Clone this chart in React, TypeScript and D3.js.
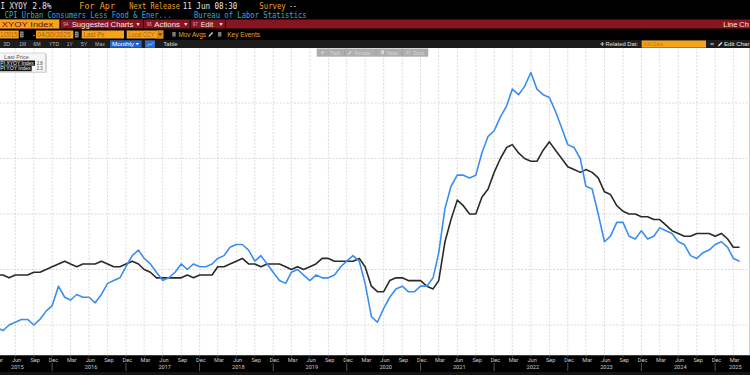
import React from "react";
import * as d3 from "d3";

// ---------- data ----------
const seriesStart = [2015, 0]; // Jan 2015, monthly observations
const seriesEnd = [2025, 3]; // Apr 2025

// CPI YOY Index (headline CPI, % y/y)
const cpiYoY = [
  -0.1, 0.0, -0.1, -0.2, 0.0, 0.1, 0.2, 0.2, 0.0, 0.2, 0.5, 0.7,
  1.4, 1.0, 0.9, 1.1, 1.0, 1.0, 0.8, 1.1, 1.5, 1.6, 1.7, 2.1,
  2.5, 2.7, 2.4, 2.2, 1.9, 1.6, 1.7, 1.9, 2.2, 2.0, 2.2, 2.1,
  2.1, 2.2, 2.4, 2.5, 2.8, 2.9, 2.9, 2.7, 2.3, 2.5, 2.2, 1.9,
  1.6, 1.5, 1.9, 2.0, 1.8, 1.6, 1.8, 1.7, 1.7, 1.8, 2.1, 2.3,
  2.5, 2.3, 1.5, 0.3, 0.1, 0.6, 1.0, 1.3, 1.4, 1.2, 1.2, 1.4,
  1.4, 1.7, 2.6, 4.2, 5.0, 5.4, 5.4, 5.3, 5.4, 6.2, 6.8, 7.0,
  7.5, 7.9, 8.5, 8.3, 8.6, 9.1, 8.5, 8.3, 8.2, 7.7, 7.1, 6.5,
  6.4, 6.0, 5.0, 4.9, 4.0, 3.0, 3.2, 3.7, 3.7, 3.2, 3.1, 3.4,
  3.1, 3.2, 3.5, 3.4, 3.3, 3.0, 2.9, 2.5, 2.4, 2.6, 2.7, 2.9,
  3.0, 2.8, 2.4, 2.3,
];

// CPI XYOY Index (core CPI less food & energy, % y/y)
const coreYoY = [
  1.6, 1.7, 1.8, 1.8, 1.7, 1.8, 1.8, 1.8, 1.9, 1.9, 2.0, 2.1,
  2.2, 2.3, 2.2, 2.1, 2.2, 2.2, 2.2, 2.3, 2.2, 2.1, 2.1, 2.2,
  2.3, 2.2, 2.0, 1.9, 1.7, 1.7, 1.7, 1.7, 1.7, 1.8, 1.7, 1.8,
  1.8, 1.8, 2.1, 2.1, 2.2, 2.3, 2.4, 2.2, 2.2, 2.1, 2.2, 2.2,
  2.2, 2.1, 2.0, 2.1, 2.0, 2.1, 2.2, 2.4, 2.4, 2.3, 2.3, 2.3,
  2.3, 2.4, 2.1, 1.4, 1.2, 1.2, 1.6, 1.7, 1.7, 1.6, 1.6, 1.6,
  1.4, 1.3, 1.6, 3.0, 3.8, 4.5, 4.3, 4.0, 4.0, 4.6, 4.9, 5.5,
  6.0, 6.4, 6.5, 6.2, 6.0, 5.9, 5.9, 6.3, 6.6, 6.3, 6.0, 5.7,
  5.6, 5.5, 5.6, 5.5, 5.3, 4.8, 4.7, 4.3, 4.1, 4.0, 4.0, 3.9,
  3.9, 3.8, 3.8, 3.6, 3.4, 3.3, 3.2, 3.2, 3.3, 3.3, 3.3, 3.2,
  3.3, 3.1, 2.8, 2.8,
];

const yGridValues = [0, 2, 4, 6, 8, 10];
const tickFirst = [2015, 2]; // Mar 2015
const tickLast = [2025, 2]; // Mar 2025
const yearLabels = [
  { year: "2015", month: [2015, 5] },
  { year: "2016", month: [2016, 5] },
  { year: "2017", month: [2017, 5] },
  { year: "2018", month: [2018, 5] },
  { year: "2019", month: [2019, 5] },
  { year: "2020", month: [2020, 5] },
  { year: "2021", month: [2021, 5] },
  { year: "2022", month: [2022, 5] },
  { year: "2023", month: [2023, 5] },
  { year: "2024", month: [2024, 5] },
  { year: "2025", month: [2025, 2] },
];
const legendNames = ["PI XYOY Index", "PI YOY Index"];
const rangeButtons = ["3D", "1M", "6M", "YTD", "1Y", "5Y", "Max"];

// ---------- styles ----------
const MONO = "'DejaVu Sans Mono', 'Liberation Mono', monospace";
const SANS = "'Liberation Sans', Arial, sans-serif";
const ORANGE_TXT = "#eba12e";
const ORANGE_BOX = "#f6a31c";
const CYAN = "#2db0d2";
const RED = "#861522";
const BLUE = "#3a8ef2";
const DARK = "#2a2a2a";

const utc = (a: number[]) => new Date(Date.UTC(a[0], a[1], 1));

function T(props: any) {
  const { x, y, w, size = 8, fill = "#fff", font = SANS, anchor = "start", weight = "normal", children } = props;
  const extra: any = {};
  if (w) {
    extra.textLength = w;
    extra.lengthAdjust = "spacingAndGlyphs";
  }
  return (
    <text x={x} y={y} fontSize={size} fill={fill} fontFamily={font} textAnchor={anchor} fontWeight={weight} {...extra}>
      {children}
    </text>
  );
}

export default function App() {
  const plotTop = 48;
  const plotBottom = 355.5;

  const x = d3.scaleUtc().domain([utc([2015, 5]), utc([2025, 2])]).range([15.3, 733.3]);
  const y = d3.scaleLinear().domain([0, 10]).range([325, 47.5]);

  const months = d3.utcMonth.range(utc(seriesStart), d3.utcMonth.offset(utc(seriesEnd), 1));
  const line = d3
    .line<number>()
    .x((_, i) => x(months[i]))
    .y((v) => y(v));

  const ticks = d3.utcMonth.range(utc(tickFirst), d3.utcMonth.offset(utc(tickLast), 1), 3);
  const fmtMonth = d3.utcFormat("%b");
  const fmt1 = d3.format(".1f");
  const lastCore = coreYoY[coreYoY.length - 1];
  const lastCpi = cpiYoY[cpiYoY.length - 1];

  return (
    <svg width={750} height={375} style={{ position: "absolute", left: 0, top: 0, display: "block", background: "#000" }}>
      <defs>
        <clipPath id="plotclip">
          <rect x={0} y={plotTop} width={750} height={plotBottom - plotTop} />
        </clipPath>
      </defs>

      {/* header rows */}
      <rect x={0} y={0} width={750} height={48} fill="#000" />
      <T x={0.5} y={8.6} w={26.8} font={MONO} fill="#e6e6e6">I XYOY</T>
      <T x={32.3} y={8.6} w={19.4} font={MONO} fill="#e6e6e6">{fmt1(lastCore)}%</T>
      <T x={79.3} y={8.6} w={35.7} font={MONO} fill={ORANGE_TXT}>For Apr</T>
      <T x={129.3} y={8.6} w={50.7} font={MONO} fill={ORANGE_TXT}>Next Release</T>
      <T x={182.7} y={8.6} w={54.6} font={MONO} fill="#e6e6e6">11 Jun 08:30</T>
      <T x={259.3} y={8.6} w={26.5} font={MONO} fill={ORANGE_TXT}>Survey</T>
      <T x={289.3} y={8.6} w={7.4} font={MONO} fill="#e6e6e6">--</T>

      <T x={4.7} y={18} w={167} font={MONO} fill={CYAN}>CPI Urban Consumers Less Food &amp; Ener...</T>
      <T x={194} y={18} w={112.7} font={MONO} fill={CYAN}>Bureau of Labor Statistics</T>

      {/* red action bar */}
      <rect x={0} y={19.5} width={750} height={9} fill={RED} />
      <rect x={0} y={19.5} width={59.3} height={9} fill={ORANGE_BOX} />
      <T x={1.7} y={26.6} w={51.6} size={8} fill="#5a1010">XYOY Index</T>
      {[60.3, 143.5, 190.3, 225.5].map((sx) => (
        <rect key={sx} x={sx - 0.6} y={19.5} width={1.2} height={9} fill="#2a0a0e" />
      ))}
      <T x={63.3} y={26.4} w={5} size={6} fill="#e2a7ad">94</T>
      <T x={71.7} y={26.6} w={61.6} size={8} fill="#f2e6e6">Suggested Charts</T>
      <T x={136.5} y={26.2} size={6} fill="#f2e6e6" font="'DejaVu Sans'">▾</T>
      <T x={146.7} y={26.4} w={5} size={6} fill="#e2a7ad">96</T>
      <T x={154.3} y={26.6} w={25.7} size={8} fill="#f2e6e6">Actions</T>
      <T x={184.3} y={26.2} size={6} fill="#f2e6e6" font="'DejaVu Sans'">▾</T>
      <T x={192.7} y={26.4} w={5} size={6} fill="#e2a7ad">97</T>
      <T x={200.7} y={26.6} w={12.6} size={8} fill="#f2e6e6">Edit</T>
      <T x={219.5} y={26.2} size={6} fill="#f2e6e6" font="'DejaVu Sans'">▾</T>
      <T x={723.3} y={26.6} w={25.5} size={8} fill="#f2e6e6">Line Ch</T>

      {/* date row */}
      <rect x={0} y={30.5} width={18.7} height={8} fill={ORANGE_BOX} />
      <T x={0.3} y={37.3} w={17} size={7.5} fill="#b35d00">1/2015</T>
      <rect x={20} y={31.5} width={3.6} height={6} fill="#8a8a8a" />
      <rect x={20.6} y={33.3} width={2.4} height={0.6} fill="#333" />
      <rect x={20.6} y={35} width={2.4} height={0.6} fill="#333" />
      <T x={32.7} y={37} size={7} fill="#ddd">-</T>
      <rect x={36} y={30.5} width={37.3} height={8} fill={ORANGE_BOX} />
      <T x={37.3} y={37.3} w={33.5} size={7.5} fill="#b35d00">04/30/2025</T>
      <rect x={75} y={31.5} width={3.6} height={6} fill="#8a8a8a" />
      <rect x={75.6} y={33.3} width={2.4} height={0.6} fill="#333" />
      <rect x={75.6} y={35} width={2.4} height={0.6} fill="#333" />
      <rect x={81.7} y={30.5} width={42.3} height={8} fill={ORANGE_BOX} />
      <T x={83.5} y={37.3} w={21} size={7.5} fill="#b35d00">Last Px</T>
      <rect x={126.7} y={30.5} width={36.6} height={8} fill={ORANGE_BOX} />
      <T x={128.5} y={37.3} w={26} size={7.5} fill="#b35d00">Local CCY</T>
      <rect x={157} y={30.5} width={6.3} height={8} fill="#d58a12" />
      <path d="M158.3,33.4 L162,33.4 L160.15,35.8 Z" fill="#5a2a00" />
      <rect x={172.3} y={32} width={3.4} height={4.6} fill="#7a7a7a" />
      <T x={178.5} y={37.3} w={27.5} size={7.5} fill={ORANGE_TXT}>Mov Avgs</T>
      <path d="M208.3,37 L209,35.3 L212.2,32.1 L213.2,33.1 L210,36.3 Z" fill="#cccccc" />
      <rect x={218} y={32} width={3.4} height={4.6} fill="#7a7a7a" />
      <T x={227.3} y={37.3} w={32.7} size={7.5} fill={ORANGE_TXT}>Key Events</T>

      {/* range row */}
      <rect x={0} y={40} width={750} height={8} fill="#1c1c1c" />
      {rangeButtons.map((b, i) => {
        const xs = [3.3, 19.3, 33.3, 49, 66.7, 80.7, 95];
        const ws = [6.7, 6.7, 7.4, 10, 6, 6.6, 10];
        return (
          <T key={b} x={xs[i]} y={46.3} w={ws[i]} size={6.2} fill="#b8b8b8">
            {b}
          </T>
        );
      })}
      <rect x={110} y={40.3} width={31.7} height={7.5} fill="#2660c6" />
      <T x={112} y={46.3} w={22} size={6.2} fill="#fff">Monthly</T>
      <path d="M135.6,42.9 L139.2,42.9 L137.4,45.3 Z" fill="#fff" />
      <rect x={145} y={40.3} width={10} height={7.5} fill="#2e6cd4" />
      <path d="M147.2,46.3 L149.3,43.8 L150.8,45 L153,42.5" stroke="#cfe0ff" strokeWidth={0.7} fill="none" />
      <T x={163.3} y={46.3} w={14.4} size={6.2} fill="#d8d8d8">Table</T>
      <path d="M600.3,44 L604.3,44 M602.3,42 L602.3,46" stroke="#e0e0e0" strokeWidth={0.8} />
      <T x={605.5} y={46.3} w={32.5} size={6.2} fill="#e0e0e0">Related Dat:</T>
      <rect x={641.7} y={40.5} width={64.3} height={7.2} fill={ORANGE_BOX} />
      <T x={643} y={46.3} w={20} size={6.2} fill="#c87a10">Add Data</T>
      <T x={709.5} y={46.3} w={5} size={6.2} fill="#ddd" font="'DejaVu Sans'">«</T>
      <path d="M717.8,46.4 L718.4,44.9 L721.4,41.9 L722.4,42.9 L719.4,45.9 Z" fill="#dddddd" />
      <T x={724} y={46.3} w={25.5} size={6.2} fill="#e6e6e6">Edit Char</T>

      {/* plot area */}
      <rect x={0} y={plotTop} width={750} height={plotBottom - plotTop} fill="#fff" />
      <g clipPath="url(#plotclip)">
        {ticks.map((t) => (
          <line
            key={+t}
            x1={x(t)}
            x2={x(t)}
            y1={plotTop}
            y2={plotBottom}
            stroke="#d2d2d2"
            strokeWidth={0.8}
            strokeDasharray="2,1.5"
          />
        ))}
        {yGridValues.map((v) => (
          <line key={v} x1={0} x2={750} y1={y(v)} y2={y(v)} stroke="#d2d2d2" strokeWidth={0.8} strokeDasharray="2,1.5" />
        ))}
        <path d={line(coreYoY) || ""} fill="none" stroke={DARK} strokeWidth={1.6} strokeLinejoin="round" />
        <path d={line(cpiYoY) || ""} fill="none" stroke={BLUE} strokeWidth={1.6} strokeLinejoin="round" />
      </g>
      <line x1={749.5} x2={749.5} y1={plotTop} y2={plotBottom} stroke="#bcd6f5" strokeWidth={1} />

      {/* legend box */}
      <rect x={0.5} y={53.6} width={46.5} height={19.2} fill="#d9d9d9" />
      <rect x={-1} y={53} width={46.5} height={19} fill="#f6f6f6" stroke="#c4c4c4" strokeWidth={0.6} />
      <T x={4} y={58.9} w={25} size={5} fill="#555">Last Price</T>
      <rect x={0} y={60.5} width={35} height={5.2} fill="#151515" />
      <T x={0.3} y={64.7} w={33.5} size={4.8} fill="#f0f0f0">{legendNames[0]}</T>
      <T x={36.7} y={64.8} w={6} size={4.8} fill="#444">{fmt1(lastCore)}</T>
      <rect x={0} y={66} width={31.7} height={5.2} fill="#151515" />
      <T x={0.3} y={70.2} w={30.3} size={4.8} fill="#f0f0f0">{legendNames[1]}</T>
      <T x={36.7} y={70.3} w={6} size={4.8} fill="#444">{fmt1(lastCpi)}</T>

      {/* floating toolbar */}
      <rect x={316.7} y={48.5} width={111.6} height={8.2} fill="#a7a7a7" opacity={0.92} />
      {[344.5, 376, 402].map((sx) => (
        <line key={sx} x1={sx} x2={sx} y1={49.5} y2={55.7} stroke="#959595" strokeWidth={0.6} />
      ))}
      <path d="M320.8,52.6 L324.4,52.6 M322.6,50.8 L322.6,54.4" stroke="#d9d9d9" strokeWidth={0.8} />
      <T x={330} y={54.8} w={10} size={5.2} fill="#d9d9d9">Track</T>
      <path d="M347.6,55 L348.1,53.7 L350.8,51 L351.7,51.9 L349,54.6 Z" fill="#d9d9d9" />
      <T x={355} y={54.8} w={15} size={5.2} fill="#d9d9d9">Annotate</T>
      <rect x={381.2} y={50.3} width={2.8} height={3.8} fill="#d9d9d9" />
      <T x={387.3} y={54.8} w={10} size={5.2} fill="#d9d9d9">News</T>
      <circle cx={408.3} cy={52.2} r={1.4} fill="none" stroke="#d9d9d9" strokeWidth={0.6} />
      <line x1={407.3} y1={53.3} x2={406.2} y2={54.6} stroke="#d9d9d9" strokeWidth={0.7} />
      <T x={413.3} y={54.8} w={10.7} size={5.2} fill="#d9d9d9">Zoom</T>

      {/* x axis */}
      <rect x={0} y={plotBottom} width={750} height={375 - plotBottom} fill="#000" />
      <rect x={0} y={372} width={750} height={3} fill="#141414" />
      {ticks.map((t) => (
        <g key={+t}>
          <line x1={x(t)} x2={x(t)} y1={plotBottom} y2={plotBottom + 1.5} stroke="#777" strokeWidth={0.6} />
          {t.getUTCMonth() === 11 && (
            <line x1={x(t)} x2={x(t)} y1={363} y2={371} stroke="#8a8a8a" strokeWidth={0.6} />
          )}
          <T x={x(t) + 1.3} y={361.7} size={5.6} fill="#c9c9c9" anchor="middle" font="Roboto, sans-serif">
            {fmtMonth(t)}
          </T>
        </g>
      ))}
      {yearLabels.map((yl) => (
        <T key={yl.year} x={x(utc(yl.month)) + 2} y={368.6} size={5.6} fill="#c9c9c9" anchor="middle" font="Roboto, sans-serif">
          {yl.year}
        </T>
      ))}
    </svg>
  );
}
